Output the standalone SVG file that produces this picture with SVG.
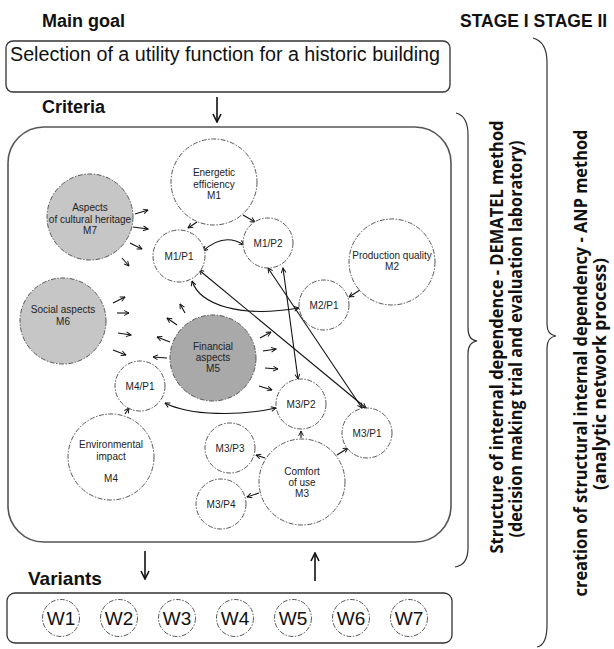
<svg xmlns="http://www.w3.org/2000/svg" width="614" height="649" viewBox="0 0 614 649">
<style>
.bg{fill:#fff}
.box{fill:none;stroke:#333;stroke-width:1.3}
.cbox{fill:none;stroke:#555;stroke-width:1.6}
.nd{fill:#fff;stroke:#444;stroke-width:0.9;stroke-dasharray:5 1.5 1.5 1.5}
.g1{fill:#c6c6c6}
.g2{fill:#a9a9a9}
.t{font-family:"Liberation Sans",Arial,sans-serif;font-size:10px;fill:#222;text-anchor:middle}
.h{font-family:"Liberation Sans",Arial,sans-serif;font-weight:bold;fill:#111}
.w{font-family:"Liberation Sans",Arial,sans-serif;font-size:19px;fill:#111;text-anchor:middle}
.r{font-family:"Open Sans","DejaVu Sans",sans-serif;font-weight:bold;font-size:18px;fill:#111;text-anchor:middle}
.s{fill:none;stroke:#111;stroke-width:1.1;marker-end:url(#ah)}
.d{fill:none;stroke:#111;stroke-width:1.1;marker-end:url(#ah);marker-start:url(#ah)}
.big{fill:none;stroke:#111;stroke-width:1.6;marker-end:url(#bh)}
.br{fill:none;stroke:#333;stroke-width:1.2}
</style>
<defs>
<marker id="ah" viewBox="0 0 10 10" refX="9" refY="5" markerWidth="6" markerHeight="6" markerUnits="userSpaceOnUse" orient="auto-start-reverse"><path d="M1,1 L9,5 L1,9" fill="none" stroke="#111" stroke-width="1.6"/></marker>
<marker id="bh" viewBox="0 0 10 10" refX="9" refY="5" markerWidth="10" markerHeight="10" markerUnits="userSpaceOnUse" orient="auto"><path d="M1,1 L9,5 L1,9" fill="none" stroke="#111" stroke-width="1.6"/></marker>
</defs>
<rect class="bg" x="0" y="0" width="614" height="649"/>

<g id="titles">
<text class="h" x="42" y="27" font-size="18">Main goal</text>
<text class="h" x="460" y="27" font-size="17.5">STAGE I STAGE II</text>
<text class="h" x="42" y="113" font-size="18">Criteria</text>
<text class="h" x="28" y="585" font-size="19">Variants</text>
</g>

<g id="goal">
<rect class="box" x="6" y="41" width="444" height="51" rx="7"/>
<text x="10" y="61" font-family="Liberation Sans,Arial,sans-serif" font-size="19.5" fill="#111" textLength="430" lengthAdjust="spacingAndGlyphs">Selection of a utility function for a historic building</text>
</g>

<g id="criteria-box">
<rect class="cbox" x="8" y="127" width="443" height="415" rx="36"/>
</g>

<g id="variants-box">
<rect class="box" x="7" y="593" width="445" height="50" rx="8"/>
</g>

<g id="connectors">
<line class="big" x1="217" y1="97" x2="217" y2="122"/>
<line class="big" x1="145" y1="551" x2="145" y2="579"/>
<line class="big" x1="315" y1="581" x2="315" y2="553"/>
<line class="s" x1="135" y1="214" x2="148" y2="210"/>
<line class="s" x1="133" y1="227" x2="148" y2="229"/>
<line class="s" x1="130" y1="243" x2="142" y2="249"/>
<line class="s" x1="122" y1="258" x2="129" y2="266"/>
<line class="s" x1="197" y1="222" x2="188" y2="228"/>
<line class="s" x1="243" y1="215" x2="255" y2="222"/>
<line class="s" x1="113" y1="303" x2="125" y2="297"/>
<line class="s" x1="117" y1="313" x2="129" y2="313"/>
<line class="s" x1="118" y1="333" x2="131" y2="335"/>
<line class="s" x1="113" y1="350" x2="126" y2="355"/>
<line class="s" x1="185" y1="313" x2="180" y2="304"/>
<line class="s" x1="177" y1="325" x2="167" y2="318"/>
<line class="s" x1="170" y1="342" x2="157" y2="337"/>
<line class="s" x1="167" y1="358" x2="153" y2="357"/>
<line class="s" x1="260" y1="338" x2="271" y2="332"/>
<line class="s" x1="263" y1="351" x2="276" y2="349"/>
<line class="s" x1="265" y1="368" x2="278" y2="369"/>
<line class="s" x1="259" y1="386" x2="272" y2="390"/>
<line class="s" x1="360" y1="290" x2="349" y2="297"/>
<line class="s" x1="125" y1="414" x2="129" y2="408"/>
<line class="s" x1="301" y1="438" x2="301" y2="431"/>
<line class="s" x1="337" y1="455" x2="348" y2="448"/>
<line class="s" x1="265" y1="458" x2="256" y2="455"/>
<line class="s" x1="259" y1="493" x2="247" y2="497"/>
<path class="d" d="M203,251 Q224,232 244,245"/>
<line class="d" x1="199" y1="270" x2="366" y2="408"/>
<line class="d" x1="268" y1="268" x2="362" y2="408"/>
<line class="d" x1="283" y1="268" x2="298" y2="379"/>
<path class="d" d="M192,281 C200,305 240,318 299,308"/>
<path class="d" d="M165,403 C190,416 240,416 276,408"/>
</g>

<g id="M1"><circle class="nd" cx="214" cy="182" r="43"/><text class="t" x="214" y="176">Energetic</text><text class="t" x="214" y="188">efficiency</text><text class="t" x="214" y="199">M1</text></g>
<g id="M7"><circle class="nd g1" cx="90" cy="217" r="43"/><text class="t" x="90" y="211">Aspects</text><text class="t" x="90" y="223">of cultural heritage</text><text class="t" x="90" y="234">M7</text></g>
<g id="M1P1"><circle class="nd" cx="179" cy="256" r="26"/><text class="t" x="179" y="260">M1/P1</text></g>
<g id="M1P2"><circle class="nd" cx="268" cy="243" r="25"/><text class="t" x="268" y="247">M1/P2</text></g>
<g id="M2"><circle class="nd" cx="392" cy="262" r="43"/><text class="t" x="392" y="259">Production quality</text><text class="t" x="392" y="270">M2</text></g>
<g id="M2P1"><circle class="nd" cx="324" cy="305" r="25"/><text class="t" x="324" y="309">M2/P1</text></g>
<g id="M6"><circle class="nd g1" cx="63" cy="321" r="43"/><text class="t" x="63" y="313">Social aspects</text><text class="t" x="63" y="325">M6</text></g>
<g id="M5"><circle class="nd g2" cx="213" cy="358" r="43"/><text class="t" x="213" y="350">Financial</text><text class="t" x="213" y="361">aspects</text><text class="t" x="213" y="372">M5</text></g>
<g id="M4P1"><circle class="nd" cx="140" cy="386" r="25"/><text class="t" x="140" y="390">M4/P1</text></g>
<g id="M4"><circle class="nd" cx="111" cy="457" r="43"/><text class="t" x="111" y="448">Environmental</text><text class="t" x="111" y="460">impact</text><text class="t" x="111" y="482">M4</text></g>
<g id="M3P2"><circle class="nd" cx="301" cy="404" r="25"/><text class="t" x="301" y="408">M3/P2</text></g>
<g id="M3P1"><circle class="nd" cx="367" cy="433" r="25"/><text class="t" x="367" y="437">M3/P1</text></g>
<g id="M3P3"><circle class="nd" cx="230" cy="448" r="25"/><text class="t" x="230" y="452">M3/P3</text></g>
<g id="M3"><circle class="nd" cx="302" cy="482" r="43"/><text class="t" x="302" y="475">Comfort</text><text class="t" x="302" y="486">of use</text><text class="t" x="302" y="497">M3</text></g>
<g id="M3P4"><circle class="nd" cx="221" cy="504" r="25"/><text class="t" x="221" y="508">M3/P4</text></g>

<g id="W1"><circle class="nd" cx="61" cy="618" r="18.5"/><text class="w" x="61" y="625">W1</text></g>
<g id="W2"><circle class="nd" cx="119" cy="618" r="18.5"/><text class="w" x="119" y="625">W2</text></g>
<g id="W3"><circle class="nd" cx="177" cy="618" r="18.5"/><text class="w" x="177" y="625">W3</text></g>
<g id="W4"><circle class="nd" cx="235" cy="618" r="18.5"/><text class="w" x="235" y="625">W4</text></g>
<g id="W5"><circle class="nd" cx="293" cy="618" r="18.5"/><text class="w" x="293" y="625">W5</text></g>
<g id="W6"><circle class="nd" cx="351" cy="618" r="18.5"/><text class="w" x="351" y="625">W6</text></g>
<g id="W7"><circle class="nd" cx="409" cy="618" r="18.5"/><text class="w" x="409" y="625">W7</text></g>

<g id="stage1">
<path class="br" d="M456,113 Q468,116 468,135 L468,328 Q468,340 477,341 Q468,342 468,354 L468,548 Q468,565 455,567"/>
<text class="r" transform="translate(503,337) rotate(-90)" textLength="433" lengthAdjust="spacingAndGlyphs">Structure of internal dependence - DEMATEL method</text>
<text class="r" transform="translate(522,339) rotate(-90)" textLength="397" lengthAdjust="spacingAndGlyphs">(decision making trial and evaluation laboratory)</text>
</g>
<g id="stage2">
<path class="br" d="M533,38 Q547,42 547,62 L547,324 Q547,335 556,336 Q547,337 547,348 L547,625 Q547,645 537,647"/>
<text class="r" transform="translate(587,363) rotate(-90)" textLength="467" lengthAdjust="spacingAndGlyphs">creation of structural internal dependency - ANP method</text>
<text class="r" transform="translate(606,374) rotate(-90)" textLength="232" lengthAdjust="spacingAndGlyphs">(analytic network process)</text>
</g>
</svg>
